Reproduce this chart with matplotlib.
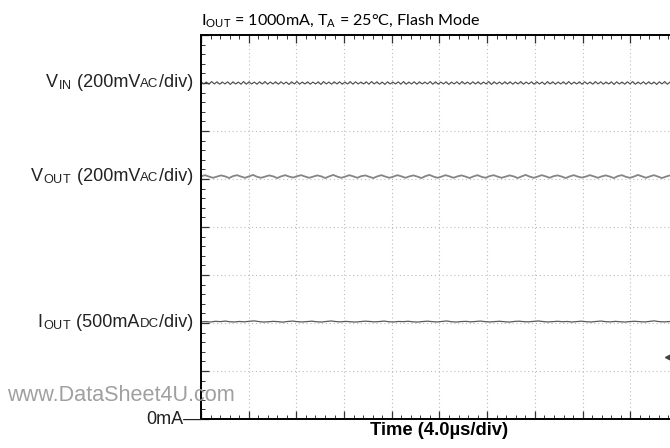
import numpy as np
import matplotlib.pyplot as plt
from matplotlib.ticker import MultipleLocator
from matplotlib.transforms import blended_transform_factory
from matplotlib.offsetbox import TextArea, HPacker, AnnotationBbox

# scope settings
time_per_div = 4.0      # us/div
n_xdiv, n_ydiv = 10, 8
vin_scale = 200.0       # mV/div (AC)
vout_scale = 200.0      # mV/div (AC)
iout_scale = 500.0      # mA/div (DC)
vin_pos = 7.0           # screen position of AC traces (div)
vout_pos = 5.05

# V_IN ripple, peaks/troughs (mV)
vin_mv = [
    5, -4, 4, -5, 6, -4, 5, -5, 4, -4, 5, -6, 5, -4, 4, -5, 6, -5, 5, -4,
    4, -5, 5, -4, 6, -5, 4, -4, 5, -5, 5, -4, 4, -6, 5, -4, 6, -5, 4, -4,
    5, -5, 4, -4, 5, -6, 6, -4, 4, -5, 5, -4, 5, -5, 4, -4, 6, -5, 5, -4,
    4, -4, 5, -5, 6, -4, 5, -5, 4, -6, 5, -4, 4, -4, 5, -5, 6, -5, 4, -4,
    5, -5, 5, -4, 4, -4, 6, -5, 5, -5, 4, -4, 5, -6, 4, -4, 5, -5, 6, -4,
    4, -5, 5, -4, 5, -5, 4, -4, 6, -6, 5, -4, 4, -5, 5, -4, 5, -5, 4, -4,
    6, -5, 4, -4, 5, -5, 5, -4, 4, -6, 6, -4, 5, -5, 4, -4, 5, -5, 6, -5,
    4, -4, 5, -5, 5, -4, 4, -5, 6, -4, 5, -5, 4, -4, 5, -6, 5, -4, 4, -5,
    5, -4, 6, -5, 4, -4, 5, -5, 5, -4, 4, -6, 5, -4, 6, -5, 4, -4, 5, -5,
]

# V_OUT ripple (mV), 4 samples per cycle
vout_mv = [
    1, 6, 0, -5, 0, 5, 1, -6, 2, 6, 0, -5, 1, 7, -1, -5, 0, 5, 1, -6,
    1, 6, 0, -4, 2, 6, 0, -5, 0, 5, 1, -6, 1, 7, 0, -5, 0, 6, 1, -5,
    2, 5, -1, -6, 1, 6, 0, -5, 0, 6, 1, -5, 1, 5, 0, -6, 2, 7, 0, -5,
    0, 6, 1, -5, 1, 5, 0, -6, 1, 6, -1, -5, 2, 6, 0, -5, 0, 5, 1, -6,
    1, 7, 0, -5, 0, 6, 1, -5, 2, 5, 0, -6, 1, 6, 0, -4, 0, 6, 1, -5,
    1, 5, 0, -6, 2, 6, -1, -5, 0, 7, 1, -5, 1, 6, 0, -6, 0, 5, 1, -5,
]

# I_OUT (mA)
iout_ma = [
    1012, 1015, 1010, 1018, 1014, 1020, 1013, 1011, 1016, 1012,
    1018, 1022, 1015, 1010, 1013, 1017, 1014, 1009, 1016, 1020,
    1014, 1011, 1015, 1019, 1013, 1010, 1016, 1021, 1015, 1012,
    1017, 1013, 1010, 1014, 1019, 1016, 1012, 1015, 1020, 1013,
    1011, 1016, 1014, 1018, 1012, 1010, 1015, 1019, 1014, 1011,
    1016, 1021, 1013, 1010, 1015, 1017, 1012, 1016, 1020, 1014,
    1011, 1015, 1018, 1013, 1010, 1016, 1019, 1014, 1012, 1017,
    1021, 1015, 1011, 1014, 1018, 1013, 1016, 1010, 1015, 1019,
    1013, 1011, 1016, 1020, 1014, 1012, 1017, 1013, 1010, 1015,
    1018, 1014, 1011, 1016, 1022, 1015, 1012, 1014, 1019, 1013,
]

# left side labels: (symbol, subscript, scale, small caps part, y in div)
labels = [
    ("V", "IN", " (200mV", "AC", vin_pos),
    ("V", "OUT", " (200mV", "AC", vout_pos),
    ("I", "OUT", " (500mA", "DC", 2.0),
]

title = "I$_\\mathregular{OUT}$ = 1000mA, T$_\\mathregular{A}$ = 25°C, Flash Mode"
xlabel = "Time (4.0µs/div)"

t_end = time_per_div * n_xdiv

fig = plt.figure(figsize=(6.7, 4.48), dpi=100)
# screen runs past the right edge of the picture
ax = fig.add_axes([201 / 670, 29 / 448, 477 / 670, 384 / 448])

t_vin = np.linspace(0, t_end, len(vin_mv))
t_vout = np.linspace(0, t_end, len(vout_mv))
t_iout = np.linspace(0, t_end, len(iout_ma))

ax.plot(t_vin, vin_pos + np.array(vin_mv) / vin_scale, color='#4a4a4a', lw=0.8)
ax.plot(t_vout, vout_pos + np.array(vout_mv) / vout_scale, color='#858585', lw=1.3)
ax.plot(t_iout, np.array(iout_ma) / iout_scale, color='#5a5a5a', lw=0.9)
ax.plot([39.2], [1.29], marker='<', color='#444444', ms=4, clip_on=False)

ax.set_xlim(0, t_end)
ax.set_ylim(0, n_ydiv)
ax.xaxis.set_major_locator(MultipleLocator(time_per_div))
ax.xaxis.set_minor_locator(MultipleLocator(time_per_div / 5))
ax.yaxis.set_major_locator(MultipleLocator(1))
ax.yaxis.set_minor_locator(MultipleLocator(0.2))
ax.tick_params(which='both', direction='in', top=True, right=False,
               labelbottom=False, labelleft=False, color='#333333')
ax.tick_params(which='major', length=6, width=0.9)
ax.tick_params(which='minor', length=3, width=0.7)
ax.grid(which='major', color='#bdbdbd', linestyle=(0, (1, 2.5)), linewidth=0.8)
for s in ax.spines.values():
    s.set_linewidth(1.4)

ax.set_title(title, loc='left', fontsize=11.6, family='Lato', pad=7)
ax.set_xlabel(xlabel, fontsize=13.2, fontweight='bold', family='Liberation Sans', labelpad=2)

tr = blended_transform_factory(ax.transAxes, ax.transData)
props = dict(fontsize=13, family='Liberation Sans', color='#222222')
small = dict(props, fontsize=9.5)
for sym, sub, scale, unit, y in labels:
    parts = [TextArea(sym, textprops=props),
             TextArea("$_\\mathregular{%s}$" % sub, textprops=props),
             TextArea(scale, textprops=props),
             TextArea(unit, textprops=small),
             TextArea("/div)", textprops=props)]
    box = HPacker(children=parts, align='baseline', pad=0, sep=0)
    ab = AnnotationBbox(box, (-0.017, y), xycoords=tr, box_alignment=(1, 0.5),
                        frameon=False, pad=0, annotation_clip=False)
    ax.add_artist(ab)

ax.text(0, 0, "0mA—", transform=tr, ha='right', va='center', fontsize=13,
        family='Liberation Sans', color='#222222', clip_on=False)

fig.text(7 / 670, 1 - 395 / 448, "www.DataSheet4U.com", ha='left', va='center',
         fontsize=15.6, family='Liberation Sans', color='#a0a0a0')

fig.savefig('out.png', dpi=100)
